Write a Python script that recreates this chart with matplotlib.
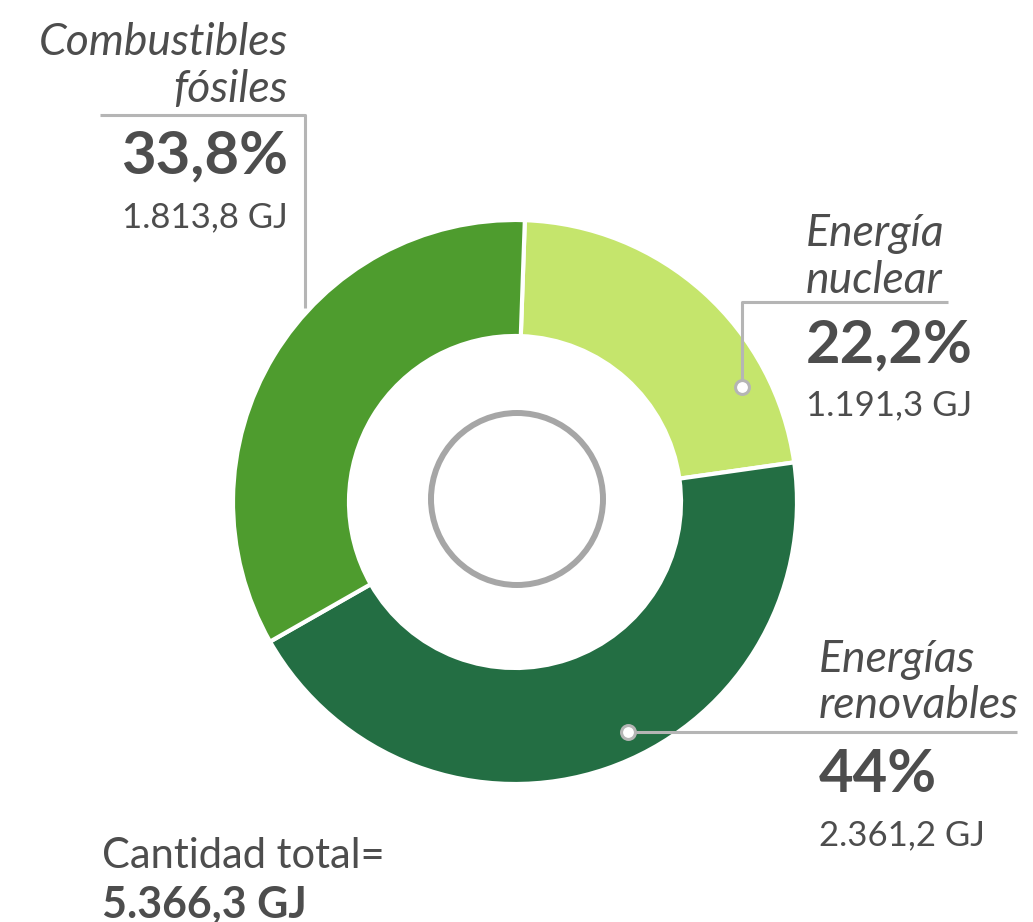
import matplotlib.pyplot as plt

plt.rcParams['font.family'] = ['Lato', 'DejaVu Sans']

# energy mix
labels = ['Energía\nnuclear', 'Energías\nrenovables', 'Combustibles\nfósiles']
percents = [22.2, 44.0, 33.8]
pct_text = ['22,2%', '44%', '33,8%']
gj_text = ['1.191,3 GJ', '2.361,2 GJ', '1.813,8 GJ']
colors = ['#c5e56c', '#236e43', '#4e9c2e']
total_text = '5.366,3 GJ'

TXT = '#4d4d4d'
LINE = '#b5b5b5'
W, H = 1033, 922


def Y(y):
    # image rows -> axes coords (y up)
    return H - y


fig = plt.figure(figsize=(W / 100, H / 100), dpi=100)
ax = fig.add_axes([0, 0, 1, 1])

cx, cy = 515, Y(502)
ax.pie(percents, colors=colors, startangle=88, counterclock=False,
       radius=282, center=(cx, cy),
       wedgeprops=dict(width=116, edgecolor='white', linewidth=3))

# grey ring in the hole
ax.add_patch(plt.Circle((cx + 2, cy + 3), 86, fill=False, ec='#a6a6a6', lw=4.3))

ax.set_xlim(0, W)
ax.set_ylim(0, H)
ax.set_aspect('equal')
ax.axis('off')

# leader lines
ax.plot([100, 305, 305], [Y(115), Y(115), Y(308)], color=LINE, lw=2.2, solid_capstyle='butt')
ax.plot([948, 742, 742], [Y(302), Y(302), Y(380)], color=LINE, lw=2.2, solid_capstyle='butt')
ax.plot([742], [Y(387)], 'o', ms=10, mfc='white', mec=LINE, mew=2.2)
ax.plot([636, 1017], [Y(732), Y(732)], color=LINE, lw=2.2, solid_capstyle='butt')
ax.plot([628], [Y(732)], 'o', ms=10, mfc='white', mec=LINE, mew=2.2)


def block(x, ys, i, ha):
    l1, l2 = labels[i].split('\n')
    ax.text(x, Y(ys[0]), l1, fontsize=32, style='italic', color=TXT, ha=ha, va='baseline')
    ax.text(x, Y(ys[1]), l2, fontsize=32, style='italic', color=TXT, ha=ha, va='baseline')
    ax.text(x, Y(ys[2]), pct_text[i], fontsize=43, fontweight='bold', color=TXT, ha=ha, va='baseline')
    ax.text(x, Y(ys[3]), gj_text[i], fontsize=25, color=TXT, ha=ha, va='baseline')


block(288, [55, 102, 173, 227], 2, 'right')
block(806, [246, 293, 362, 415], 0, 'left')
block(819, [672, 718, 792, 845], 1, 'left')

ax.text(102, Y(868), 'Cantidad total=', fontsize=30, color=TXT, ha='left', va='baseline')
ax.text(102, Y(918), total_text, fontsize=31, fontweight='bold', color=TXT, ha='left', va='baseline')

fig.savefig('out.png', dpi=100)
